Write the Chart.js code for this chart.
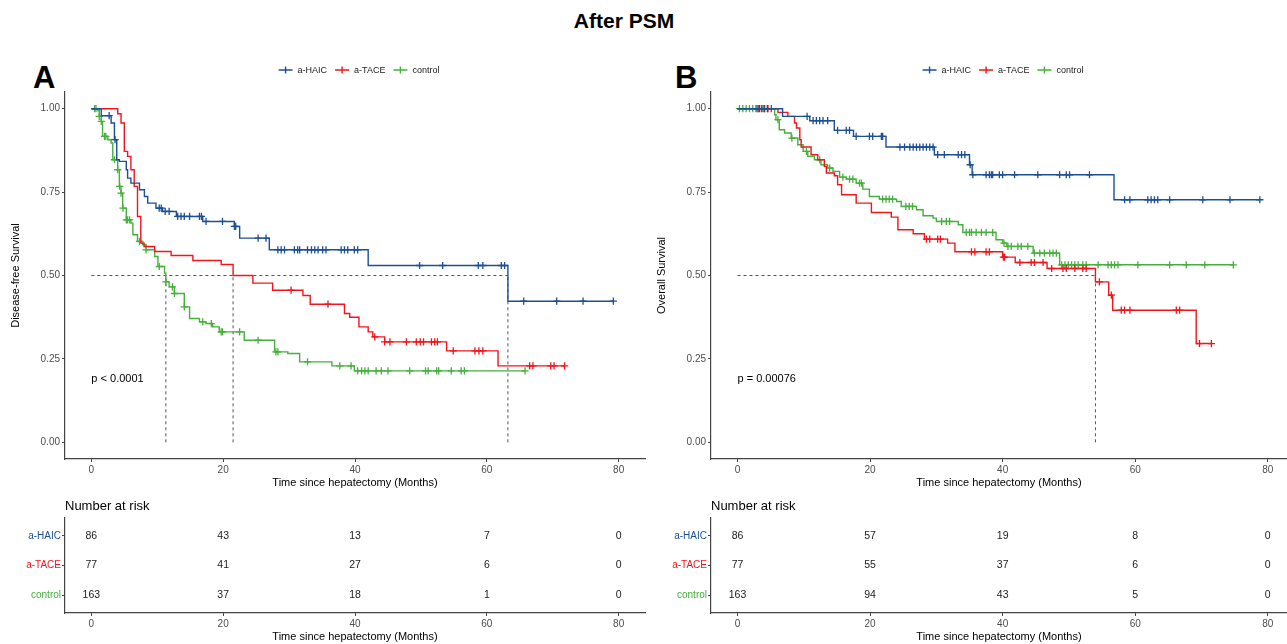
<!DOCTYPE html>
<html>
<head>
<meta charset="utf-8">
<script src="https://cdn.jsdelivr.net/npm/chart.js@4.4.1/dist/chart.umd.min.js"></script>
<style>
  body { margin: 0; background: #fff; width: 1287px; height: 644px; overflow: hidden; position: relative;
         font-family: 'Liberation Sans', Arial, sans-serif; }
  canvas { position: absolute; }
  #title { position: absolute; left: 0; top: 9px; width: 1248px; text-align: center;
           font-weight: bold; font-size: 21px; line-height: 24px; }
  .tag { position: absolute; font-weight: bold; font-size: 31px; line-height: 31px; top: 62px; }
</style>
</head>
<body>
<div id="title">After PSM</div>
<div class="tag" style="left:33px">A</div>
<div class="tag" style="left:675px">B</div>
<canvas id="kmA" width="650" height="440" style="left:0;top:55px"></canvas>
<canvas id="kmB" width="641" height="440" style="left:646px;top:55px"></canvas>
<canvas id="riskA" width="650" height="149" style="left:0;top:495px"></canvas>
<canvas id="riskB" width="641" height="149" style="left:646px;top:495px"></canvas>
<script>
// groups and colours
const groups = ['a-HAIC', 'a-TACE', 'control'];
const groupColors = ['#1d4f95', '#f2151b', '#45b03c'];
const xTicks = [0, 20, 40, 60, 80];
const yTicks = [0, 0.25, 0.5, 0.75, 1];
const riskTimes = [0, 20, 40, 60, 80];

// Disease-free survival (panel A): event times / survival after each step / censor times
const dfsHaicT = [1.5, 3.0, 3.5, 3.85, 4.25, 5.3, 5.5, 6.0, 7.3, 8.05, 8.55, 9.8, 10.8, 12.9, 16.9, 21.7, 22.5, 27.0, 42.0, 63.2];
const dfsHaicS = [0.979, 0.957, 0.907, 0.847, 0.842, 0.817, 0.792, 0.777, 0.757, 0.737, 0.717, 0.702, 0.692, 0.677, 0.662, 0.647, 0.612, 0.577, 0.530, 0.423];
const dfsHaicCens = [2.7, 3.6, 10.3, 10.6, 11.2, 11.8, 13.1, 13.6, 14.1, 14.9, 16.4, 16.7, 17.4, 19.9, 21.7, 21.9, 25.3, 26.5,
  28.3, 28.8, 29.3, 30.8, 31.3, 31.6, 32.8, 33.4, 33.9, 34.4, 35.1, 35.6, 37.9, 38.4, 38.9, 39.9, 40.4, 49.8, 53.3, 58.7, 59.4,
  62.2, 62.7, 65.6, 70.6, 74.6, 79.2];

const dfsTaceT = [4.0, 4.5, 5.0, 5.5, 6.0, 6.5, 7.0, 7.5, 8.0, 9.6, 12.1, 15.4, 19.7, 21.5, 24.5, 27.5, 32.1, 33.2, 38.4, 39.2,
  40.6, 42.0, 42.7, 44.5, 53.9, 61.7];
const dfsTaceS = [0.985, 0.957, 0.872, 0.857, 0.817, 0.767, 0.677, 0.597, 0.587, 0.572, 0.560, 0.545, 0.533, 0.500, 0.477, 0.456,
  0.440, 0.414, 0.386, 0.375, 0.346, 0.331, 0.316, 0.301, 0.274, 0.229];
const dfsTaceCens = [30.3, 35.9, 43.0, 44.5, 45.3, 47.8, 49.3, 49.9, 50.4, 51.6, 52.1, 52.5, 54.9, 58.2, 58.8, 59.4, 66.5, 67.0,
  69.7, 70.2, 71.8];

const dfsCtrlT = [1.0, 1.2, 1.5, 1.7, 2.5, 3.0, 3.25, 4.0, 4.25, 4.5, 4.75, 5.3, 6.0, 6.3, 7.0, 7.8, 8.3, 9.6, 10.1, 11.1, 11.3,
  11.8, 12.6, 14.1, 14.9, 16.4, 17.4, 18.4, 19.4, 23.2, 27.8, 29.8, 31.6, 36.5, 39.9];
const dfsCtrlS = [0.994, 0.977, 0.962, 0.917, 0.907, 0.897, 0.847, 0.817, 0.767, 0.747, 0.702, 0.667, 0.657, 0.622, 0.602, 0.592,
  0.577, 0.557, 0.527, 0.507, 0.481, 0.466, 0.446, 0.406, 0.371, 0.361, 0.356, 0.346, 0.331, 0.306, 0.271, 0.266, 0.241, 0.229, 0.214];
const dfsCtrlCens = [0.5, 0.7, 1.2, 1.5, 2.0, 2.2, 3.5, 4.0, 4.3, 4.5, 4.8, 5.3, 5.5, 5.8, 7.3, 8.3, 10.3, 11.3, 12.3, 12.6, 14.1,
  16.9, 18.2, 19.7, 19.9, 22.5, 25.3, 28.0, 28.3, 32.8, 37.7, 39.4, 40.4, 41.0, 41.5, 42.0, 43.2, 44.0, 45.0, 48.3, 50.7, 51.1,
  52.4, 52.7, 54.6, 56.1, 56.6, 65.8];
const dfsMedians = [11.3, 21.5, 63.2];

// Overall survival (panel B)
const osHaicT = [6.8, 10.9, 14.6, 17.5, 22.4, 29.7, 35.0, 35.4, 56.8];
const osHaicS = [0.977, 0.964, 0.935, 0.917, 0.885, 0.862, 0.832, 0.802, 0.727];
const osHaicCens = [2.8, 3.3, 4.0, 4.5, 10.5, 11.4, 11.9, 12.4, 12.9, 13.6, 15.1, 16.4, 16.9, 17.9, 19.9, 20.4, 21.7, 21.9, 24.5,
  25.2, 26.0, 26.5, 27.0, 27.5, 28.0, 28.5, 29.0, 29.5, 30.2, 31.2, 33.3, 33.8, 34.3, 35.1, 35.5, 37.5, 38.0, 38.3, 38.5, 39.5,
  40.0, 41.8, 45.3, 48.6, 49.6, 50.1, 53.1, 58.4, 59.2, 61.9, 62.4, 62.9, 63.4, 65.2, 70.2, 74.3, 78.8];

const osTaceT = [6.1, 7.6, 8.6, 8.9, 9.4, 9.6, 11.1, 12.1, 13.1, 13.4, 14.6, 15.1, 15.7, 17.9, 20.2, 23.2, 24.2, 26.5, 28.2, 31.7,
  32.8, 40.0, 41.9, 46.7, 54.0, 56.0, 56.6, 69.2];
const osTaceS = [0.989, 0.977, 0.957, 0.942, 0.907, 0.885, 0.862, 0.847, 0.827, 0.807, 0.799, 0.772, 0.742, 0.717, 0.689, 0.675,
  0.637, 0.625, 0.609, 0.597, 0.571, 0.555, 0.539, 0.521, 0.481, 0.441, 0.396, 0.296];
const osTaceCens = [3.1, 3.6, 4.1, 4.6, 5.1, 28.5, 29.0, 30.2, 30.6, 35.3, 35.8, 37.5, 38.0, 40.1, 40.3, 42.6, 44.3, 44.8, 46.1,
  47.4, 49.1, 49.6, 50.9, 52.1, 52.6, 54.6, 56.4, 57.9, 58.4, 59.2, 66.2, 66.7, 69.7, 71.5];

const osCtrlT = [5.6, 5.8, 6.3, 7.1, 8.1, 9.1, 9.9, 10.6, 11.6, 12.6, 13.6, 14.4, 15.4, 16.4, 17.9, 18.9, 19.9, 21.4, 24.0, 24.7,
  27.0, 28.0, 29.5, 30.0, 33.3, 34.0, 39.0, 40.0, 40.6, 44.6, 48.6];
const osCtrlS = [0.982, 0.967, 0.937, 0.927, 0.912, 0.892, 0.872, 0.857, 0.847, 0.832, 0.822, 0.812, 0.795, 0.789, 0.777, 0.759,
  0.737, 0.729, 0.722, 0.707, 0.697, 0.679, 0.672, 0.662, 0.652, 0.629, 0.607, 0.597, 0.587, 0.567, 0.532];
const osCtrlCens = [0.3, 0.8, 1.3, 1.8, 2.3, 3.1, 3.8, 6.1, 8.2, 10.4, 12.4, 13.9, 15.9, 16.9, 17.4, 18.4, 18.7, 21.9, 22.4, 22.9,
  23.4, 25.4, 25.9, 26.4, 30.8, 31.5, 32.0, 34.5, 35.0, 35.3, 36.0, 36.8, 37.5, 38.5, 40.2, 40.8, 41.3, 42.3, 42.8, 43.8, 44.8,
  45.6, 46.3, 47.1, 47.6, 48.1, 48.9, 49.4, 49.9, 50.4, 50.9, 51.4, 52.1, 52.6, 54.4, 55.9, 56.4, 56.9, 57.4, 60.4, 65.2, 67.7,
  70.5, 74.8];
const osMedians = [54.0];

// numbers at risk
const dfsRiskHaic = [86, 43, 13, 7, 0];
const dfsRiskTace = [77, 41, 27, 6, 0];
const dfsRiskCtrl = [163, 37, 18, 1, 0];
const osRiskHaic = [86, 57, 19, 8, 0];
const osRiskTace = [77, 55, 37, 6, 0];
const osRiskCtrl = [163, 94, 43, 5, 0];

const FONT = "'Liberation Sans', Arial, sans-serif";
Chart.defaults.font.family = FONT;
Chart.defaults.animation = false;

// survival value at time t for a step curve
function survAt(times, surv, t) {
  let s = 1;
  for (let i = 0; i < times.length; i++) if (times[i] <= t) s = surv[i];
  return s;
}

function xAxis(xMax, height) {
  return {
    type: 'linear', min: -4, max: xMax,
    afterBuildTicks: s => { s.ticks = xTicks.map(v => ({ value: v })); },
    afterFit: s => { s.height = height; },
    border: { display: true, color: '#444', width: 1.2 },
    grid: { display: true, drawOnChartArea: false, drawTicks: true, tickLength: 3, color: '#444' },
    ticks: { color: '#4d4d4d', font: { size: 10 }, padding: 2, maxRotation: 0 },
    title: { display: true, text: 'Time since hepatectomy (Months)', color: '#000', font: { size: 11 },
             padding: { top: 0, bottom: height > 32 ? 5.4 : 0.4 } }
  };
}

const kmDecor = {
  id: 'kmDecor',
  afterDatasetsDraw(chart, args, opts) {
    const { ctx, chartArea, scales: { x, y } } = chart;
    ctx.save();
    ctx.fillStyle = '#000';
    ctx.font = '11px ' + FONT;
    ctx.textAlign = 'left';
    ctx.textBaseline = 'middle';
    ctx.fillText(opts.pText, x.getPixelForValue(0), y.getPixelForValue(0.19));

    // legend: line with cross + label
    ctx.font = '9px ' + FONT;
    const widths = groups.map(g => ctx.measureText(g).width);
    const icon = 14, gap = 5, space = 8;
    const total = widths.reduce((a, w) => a + icon + gap + w, 0) + space * (groups.length - 1);
    let cx = (chartArea.left + chartArea.right) / 2 - total / 2 + 4;
    const ly = opts.legendY;
    groups.forEach((g, i) => {
      ctx.strokeStyle = groupColors[i];
      ctx.lineWidth = 1.4;
      ctx.beginPath();
      ctx.moveTo(cx, ly); ctx.lineTo(cx + icon, ly);
      ctx.moveTo(cx + icon / 2, ly - 3.5); ctx.lineTo(cx + icon / 2, ly + 3.5);
      ctx.stroke();
      ctx.fillStyle = '#222';
      ctx.fillText(g, cx + icon + gap, ly + 0.5);
      cx += icon + gap + widths[i] + space;
    });
    ctx.restore();
  }
};

function kmChart(id, curves, medians, yTitle, pText, xMax, padRight) {
  const datasets = [];
  curves.forEach((c, i) => {
    const pts = [{ x: 0, y: 1 }];
    c.t.forEach((t, k) => pts.push({ x: t, y: c.s[k] }));
    pts.push({ x: c.end, y: c.s[c.s.length - 1] });
    datasets.push({ data: pts, borderColor: groupColors[i], borderWidth: 1.4, stepped: true, pointRadius: 0, fill: false });
    datasets.push({
      data: c.cens.map(t => ({ x: t, y: survAt(c.t, c.s, t) })), showLine: false,
      pointStyle: 'cross', pointRadius: 3.6, pointBorderWidth: 1.3,
      borderColor: groupColors[i], backgroundColor: groupColors[i]
    });
  });
  const dash = { borderColor: '#555', borderDash: [3, 3], borderWidth: 1, pointRadius: 0, fill: false };
  datasets.push(Object.assign({ data: [{ x: 0, y: 0.5 }, { x: Math.max(...medians), y: 0.5 }] }, dash));
  medians.forEach(m => datasets.push(Object.assign({ data: [{ x: m, y: 0 }, { x: m, y: 0.5 }] }, dash)));

  new Chart(document.getElementById(id), {
    type: 'line',
    data: { datasets },
    plugins: [kmDecor],
    options: {
      responsive: false,
      events: [],
      layout: { autoPadding: false, padding: { top: 37, right: padRight, left: 0, bottom: 0 } },
      scales: {
        x: xAxis(xMax, 36),
        y: {
          type: 'linear', min: -0.05, max: 1.05,
          afterBuildTicks: s => { s.ticks = yTicks.map(v => ({ value: v })); },
          afterFit: s => { s.width = 65; },
          border: { display: true, color: '#444', width: 1.2 },
          grid: { display: true, drawOnChartArea: false, drawTicks: true, tickLength: 3, color: '#444' },
          ticks: { color: '#4d4d4d', font: { size: 10 }, padding: 2, callback: v => v.toFixed(2) },
          title: { display: true, text: yTitle, color: '#000', font: { size: 11 }, padding: { top: 9.4, bottom: 0 } }
        }
      },
      plugins: {
        legend: { display: false },
        tooltip: { enabled: false },
        kmDecor: { pText, legendY: 15 }
      }
    }
  });
}

const riskDecor = {
  id: 'riskDecor',
  afterDatasetsDraw(chart) {
    const { ctx, chartArea } = chart;
    ctx.save();
    ctx.fillStyle = '#000';
    ctx.font = '13px ' + FONT;
    ctx.textAlign = 'left';
    ctx.textBaseline = 'middle';
    ctx.fillText('Number at risk', chartArea.left, chartArea.top - 12);
    ctx.font = '10.5px ' + FONT;
    ctx.textAlign = 'center';
    ctx.fillStyle = '#222';
    chart.data.datasets.forEach((ds, i) => {
      chart.getDatasetMeta(i).data.forEach((pt, k) => ctx.fillText(String(ds.counts[k]), pt.x, pt.y));
    });
    ctx.restore();
  }
};

function riskChart(id, rows, xMax, padRight) {
  const datasets = rows.map((counts, g) => ({
    counts, data: riskTimes.map(t => ({ x: t, y: g + 1 })), pointRadius: 0, showLine: false
  }));
  new Chart(document.getElementById(id), {
    type: 'line',
    data: { datasets },
    plugins: [riskDecor],
    options: {
      responsive: false,
      events: [],
      layout: { autoPadding: false, padding: { top: 23, right: padRight, left: 0, bottom: 0 } },
      scales: {
        x: xAxis(xMax, 31),
        y: {
          type: 'linear', min: 0.4, max: 3.6, reverse: true,
          afterBuildTicks: s => { s.ticks = [1, 2, 3].map(v => ({ value: v })); },
          afterFit: s => { s.width = 65; },
          border: { display: true, color: '#444', width: 1.2 },
          grid: { display: true, drawOnChartArea: false, drawTicks: true, tickLength: 3, color: '#444' },
          ticks: { font: { size: 10 }, padding: 1, color: c => groupColors[c.index], callback: v => groups[v - 1] }
        }
      },
      plugins: { legend: { display: false }, tooltip: { enabled: false } }
    }
  });
}

kmChart('kmA', [
  { t: dfsHaicT, s: dfsHaicS, cens: dfsHaicCens, end: 79.2 },
  { t: dfsTaceT, s: dfsTaceS, cens: dfsTaceCens, end: 71.8 },
  { t: dfsCtrlT, s: dfsCtrlS, cens: dfsCtrlCens, end: 65.8 }
], dfsMedians, 'Disease-free Survival', 'p < 0.0001', 84, 5);

kmChart('kmB', [
  { t: osHaicT, s: osHaicS, cens: osHaicCens, end: 78.8 },
  { t: osTaceT, s: osTaceS, cens: osTaceCens, end: 71.5 },
  { t: osCtrlT, s: osCtrlS, cens: osCtrlCens, end: 74.8 }
], osMedians, 'Overall Survival', 'p = 0.00076', 82.9, 0);

riskChart('riskA', [dfsRiskHaic, dfsRiskTace, dfsRiskCtrl], 84, 5);
riskChart('riskB', [osRiskHaic, osRiskTace, osRiskCtrl], 82.9, 0);
</script>
</body>
</html>
